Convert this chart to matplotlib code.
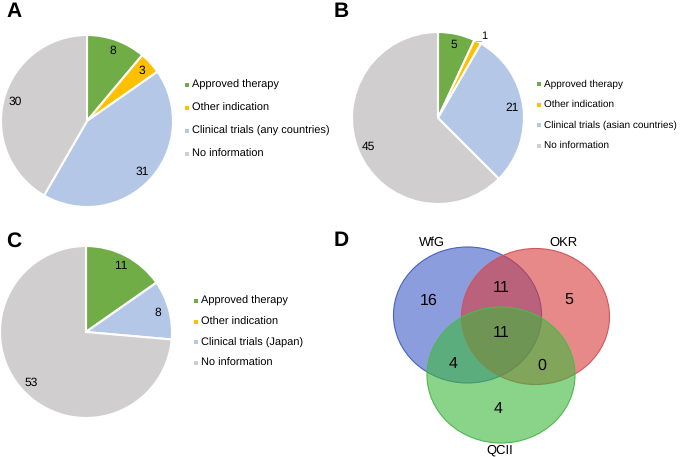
import matplotlib.pyplot as plt
import numpy as np
from matplotlib.patches import Ellipse

plt.rcParams['font.family'] = ['Liberation Sans', 'DejaVu Sans']
plt.rcParams['text.hinting'] = 'no_hinting'
plt.rcParams['text.hinting_factor'] = 1

# Pie data
categories = ['Approved therapy', 'Other indication', 'Clinical trials', 'No information']
trial_labels = ['Clinical trials (any countries)', 'Clinical trials (asian countries)', 'Clinical trials (Japan)']
values_a = [8, 3, 31, 30]
values_b = [5, 1, 21, 45]
values_c = [11, 0, 8, 53]
pie_colors = ['#70AD47', '#FFC000', '#B4C7E7', '#D0CECE']

# Venn data
venn_sets = ['WfG', 'OKR', 'QCII']
venn_regions = {'WfG only': 16, 'WfG&OKR': 11, 'OKR only': 5, 'all': 11,
                'WfG&QCII': 4, 'OKR&QCII': 0, 'QCII only': 4}

H = 457
fig = plt.figure(figsize=(6.85, 4.57), dpi=100)
ax = fig.add_axes([0, 0, 1, 1])


def draw_pie(values, cx, cy, r, legend_x, legend_y, spacing, trial_label, fs=7.9):
    cy = H - cy
    ax.pie(values, center=(cx, cy), radius=r, startangle=90, counterclock=False,
           colors=pie_colors, wedgeprops=dict(edgecolor='white', linewidth=1.5))
    total = sum(values)
    cum = np.cumsum(values)
    for v, c in zip(values, cum):
        if v == 0:
            continue
        ang = np.deg2rad(90 - 360 * (c - v / 2) / total)
        if v / total < 0.02:
            # small slice: label outside with a short leader
            tx = cx + 1.12 * r * np.cos(ang) + 2
            ty = cy + 1.12 * r * np.sin(ang) - 4
            ax.plot([tx - 8, tx - 3], [ty - 4, ty - 4], color='#a6a6a6', lw=0.6)
            ax.text(tx, ty, str(v), fontsize=8, ha='center', va='center')
        else:
            ax.text(cx + 0.87 * r * np.cos(ang), cy + 0.87 * r * np.sin(ang), str(v),
                    fontsize=8.5, ha='center', va='center')
    labels = [categories[0], categories[1], trial_label, categories[3]]
    for i, (lab, col) in enumerate(zip(labels, pie_colors)):
        y = H - (legend_y + i * spacing)
        ax.scatter([legend_x], [y], marker='s', s=10, color=col, linewidths=0)
        ax.text(legend_x + 5, y, lab, fontsize=fs, ha='left', va='center')


draw_pie(values_a, 87, 121, 86, 187, 85, 23, trial_labels[0])
draw_pie(values_b, 438, 118, 86, 539, 84, 20.5, trial_labels[1], fs=7.3)
draw_pie(values_c, 86, 332, 86, 196, 301, 20.7, trial_labels[2])

# Venn diagram
centers = [(467.5, 315), (535.5, 316.5), (501, 375)]
fills = ['#3F5CC8', '#D93A3A', '#3DB83D']
edges = ['#4A62C0', '#D2555A', '#4DB84D']
for (x, y), fc, ec in zip(centers, fills, edges):
    ax.add_patch(Ellipse((x, H - y), 148, 136, facecolor=fc, alpha=0.6, edgecolor='none'))
    ax.add_patch(Ellipse((x, H - y), 148, 136, facecolor='none', edgecolor=ec, lw=0.8))

name_pos = [(432, 243), (563, 243), (500, 450)]
for name, (x, y) in zip(venn_sets, name_pos):
    ax.text(x, H - y, name, fontsize=9.5, ha='center', va='center')

region_pos = {'WfG only': (429, 301), 'WfG&OKR': (501, 288), 'OKR only': (569, 300),
              'all': (501, 333), 'WfG&QCII': (453, 364), 'OKR&QCII': (542, 366),
              'QCII only': (498, 409)}
for key, val in venn_regions.items():
    x, y = region_pos[key]
    ax.text(x, H - y, str(val), fontsize=11.5, ha='center', va='center')

# Panel letters
for letter, (x, y) in zip('ABCD', [(14, 12), (341, 12), (14, 241), (341, 241)]):
    ax.text(x, H - y, letter, fontsize=15, fontweight='bold', ha='center', va='center')

ax.set_xlim(0, 685)
ax.set_ylim(0, H)
ax.set_aspect('auto')
ax.axis('off')

plt.savefig('out.png', dpi=100)
